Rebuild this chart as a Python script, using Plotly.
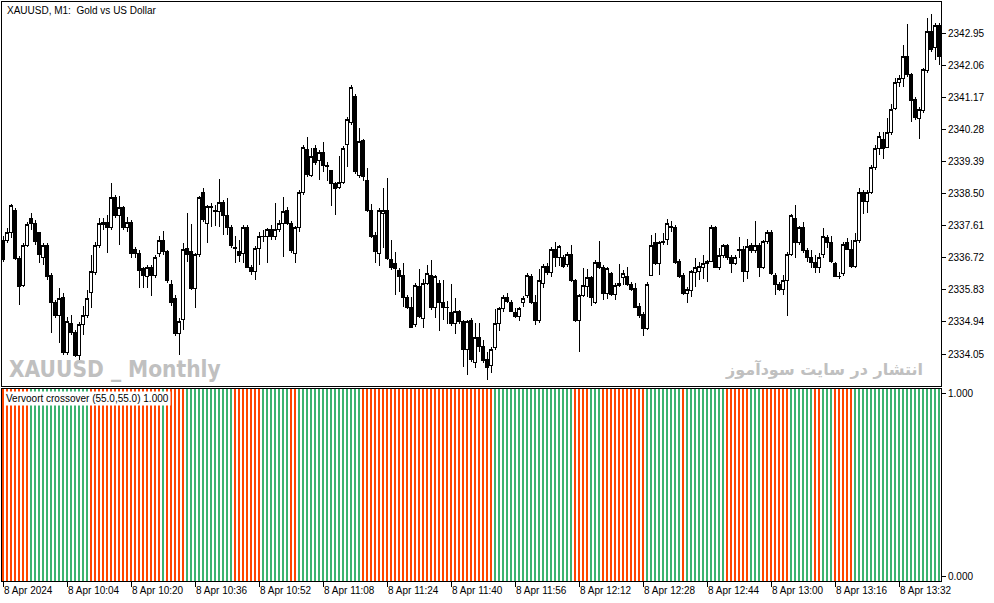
import pandas as pd
import plotly.graph_objs as go

# XAUUSD M1 candles, 8 Apr 2024 from 09:48 (one bar per minute)
start_time = "2024-04-08 09:48"

opens = [
    2337.21, 2337.21, 2337.43, 2338.04, 2336.71, 2335.96, 2337.07, 2337.82, 2337.68, 2337.41,
    2336.74, 2337.07, 2336.24, 2335.47, 2335.13, 2335.63, 2334.08, 2334.91, 2334.66, 2334.02,
    2334.86, 2335.13, 2335.77, 2336.30, 2337.07, 2337.63, 2337.71, 2337.57, 2338.40, 2337.90,
    2338.10, 2337.57, 2337.71, 2336.96, 2336.85, 2336.41, 2336.19, 2336.46, 2336.24, 2336.85,
    2337.21, 2336.88, 2335.99, 2335.60, 2334.63, 2335.00, 2336.99, 2336.88, 2335.88, 2336.80,
    2338.52, 2337.68, 2338.10, 2338.04, 2337.99, 2338.24, 2337.90, 2337.57, 2336.98, 2336.88,
    2336.85, 2337.57, 2336.46, 2336.35, 2336.99, 2337.30, 2337.30, 2337.49, 2337.30, 2337.49,
    2337.68, 2338.04, 2337.68, 2336.85, 2337.55, 2338.52, 2339.71, 2338.99, 2339.74, 2339.43,
    2339.65, 2339.27, 2339.13, 2338.77, 2338.68, 2338.82, 2339.85, 2340.46, 2341.20, 2338.99,
    2339.96, 2338.85, 2338.04, 2337.35, 2336.85, 2337.96, 2338.04, 2336.68, 2336.57, 2336.38,
    2336.24, 2335.63, 2335.33, 2334.88, 2335.91, 2335.05, 2336.02, 2336.24, 2335.33, 2336.02,
    2335.49, 2335.34, 2335.19, 2334.91, 2335.22, 2334.94, 2334.19, 2334.97, 2333.83, 2334.52,
    2334.27, 2333.89, 2333.72, 2334.22, 2334.91, 2335.30, 2335.63, 2335.49, 2335.19, 2335.08,
    2335.47, 2335.66, 2336.21, 2335.49, 2334.97, 2336.02, 2336.49, 2336.30, 2336.94, 2336.74,
    2336.74, 2336.52, 2336.82, 2336.08, 2334.97, 2335.66, 2335.91, 2336.16, 2335.49, 2336.60,
    2336.46, 2335.74, 2336.27, 2335.69, 2335.96, 2336.16, 2336.21, 2335.99, 2335.88, 2335.38,
    2335.16, 2334.75, 2336.24, 2337.13, 2336.57, 2337.13, 2337.24, 2337.57, 2337.57, 2336.63,
    2336.24, 2335.74, 2335.80, 2336.30, 2336.33, 2336.46, 2336.55, 2336.63, 2337.55, 2336.46,
    2336.77, 2337.05, 2336.74, 2336.57, 2336.93, 2336.96, 2336.35, 2337.07, 2336.91, 2337.07,
    2336.46, 2337.16, 2337.43, 2336.24, 2335.99, 2335.85, 2336.10, 2336.82, 2337.82, 2337.13,
    2337.55, 2336.91, 2336.74, 2336.60, 2336.46, 2336.82, 2337.27, 2337.13, 2336.55, 2336.21,
    2336.27, 2337.13, 2336.94, 2336.49, 2337.21, 2338.52, 2338.29, 2338.54, 2339.21, 2339.76,
    2340.01, 2339.79, 2340.18, 2340.87, 2341.59, 2341.68, 2342.29, 2341.79, 2341.12, 2340.57,
    2340.79, 2341.90, 2342.98, 2342.56, 2343.17,
]

highs = [
    2337.32, 2337.55, 2338.21, 2338.10, 2336.77, 2337.13, 2337.71, 2337.96, 2337.77, 2337.43,
    2337.13, 2337.13, 2336.30, 2335.55, 2335.88, 2335.74, 2335.08, 2335.13, 2334.72, 2334.94,
    2335.38, 2335.83, 2336.80, 2337.16, 2337.82, 2337.82, 2337.90, 2338.79, 2338.46, 2338.43,
    2338.15, 2337.85, 2337.77, 2337.02, 2336.94, 2336.46, 2336.52, 2336.52, 2336.80, 2337.32,
    2337.46, 2336.94, 2336.10, 2335.69, 2335.05, 2337.13, 2337.96, 2337.66, 2336.85, 2338.43,
    2338.65, 2338.18, 2338.24, 2338.18, 2338.90, 2338.32, 2338.38, 2337.63, 2337.32, 2337.21,
    2337.63, 2337.63, 2336.52, 2337.05, 2337.43, 2337.49, 2337.55, 2337.63, 2338.24, 2337.77,
    2338.40, 2338.13, 2337.74, 2337.60, 2338.60, 2339.85, 2340.07, 2339.76, 2339.85, 2339.71,
    2339.93, 2339.37, 2339.15, 2338.82, 2339.54, 2339.82, 2340.62, 2341.51, 2341.26, 2340.32,
    2340.01, 2339.21, 2338.21, 2337.43, 2338.10, 2338.65, 2338.93, 2337.21, 2336.88, 2336.44,
    2336.57, 2335.69, 2335.63, 2336.02, 2336.41, 2336.13, 2336.52, 2336.66, 2336.24, 2336.10,
    2336.10, 2335.52, 2335.99, 2335.60, 2335.27, 2335.00, 2335.00, 2335.05, 2334.91, 2334.91,
    2334.44, 2334.11, 2334.25, 2335.30, 2335.35, 2335.69, 2335.74, 2335.55, 2335.33, 2335.35,
    2335.66, 2336.30, 2336.27, 2335.69, 2336.41, 2336.55, 2336.57, 2337.02, 2337.16, 2337.07,
    2336.80, 2336.88, 2337.07, 2336.13, 2335.71, 2336.44, 2336.41, 2336.21, 2336.66, 2337.18,
    2336.52, 2336.46, 2336.33, 2336.02, 2336.55, 2336.38, 2336.46, 2336.05, 2336.02, 2335.47,
    2335.22, 2336.05, 2337.35, 2337.41, 2337.18, 2337.41, 2337.80, 2337.74, 2337.63, 2336.68,
    2336.30, 2335.91, 2336.38, 2336.71, 2336.60, 2336.80, 2336.66, 2337.63, 2337.60, 2336.99,
    2337.10, 2337.10, 2336.80, 2336.80, 2337.30, 2337.05, 2337.24, 2337.13, 2337.74, 2337.13,
    2337.21, 2337.49, 2337.49, 2336.30, 2336.05, 2336.24, 2336.88, 2337.93, 2338.18, 2337.60,
    2337.71, 2336.99, 2336.94, 2336.80, 2336.85, 2337.55, 2337.35, 2337.32, 2336.60, 2336.33,
    2337.16, 2337.27, 2337.21, 2337.41, 2338.65, 2338.60, 2338.60, 2339.29, 2339.85, 2340.21,
    2340.21, 2340.59, 2340.98, 2341.70, 2341.79, 2342.62, 2343.20, 2341.84, 2341.18, 2340.90,
    2341.98, 2343.37, 2343.48, 2343.23, 2343.23,
]

lows = [
    2336.60, 2337.13, 2337.27, 2336.66, 2335.41, 2335.91, 2337.02, 2337.49, 2337.07, 2336.57,
    2336.52, 2336.10, 2334.63, 2335.05, 2334.36, 2334.02, 2334.02, 2334.58, 2333.97, 2333.89,
    2334.58, 2335.05, 2335.33, 2336.24, 2336.99, 2337.49, 2336.85, 2337.49, 2337.82, 2337.07,
    2337.49, 2337.43, 2336.71, 2336.71, 2335.88, 2335.88, 2335.88, 2335.66, 2336.16, 2336.74,
    2336.80, 2336.02, 2335.38, 2334.55, 2334.02, 2334.72, 2336.60, 2335.83, 2335.33, 2336.74,
    2337.71, 2337.13, 2337.57, 2337.60, 2337.57, 2337.35, 2337.35, 2336.99, 2336.57, 2336.60,
    2336.57, 2336.44, 2336.24, 2336.10, 2336.52, 2337.16, 2336.57, 2337.21, 2337.21, 2337.43,
    2336.74, 2337.63, 2336.85, 2336.57, 2337.43, 2338.46, 2338.96, 2338.96, 2339.29, 2338.88,
    2339.10, 2338.85, 2338.15, 2337.90, 2338.63, 2338.77, 2339.24, 2340.40, 2339.04, 2338.93,
    2338.85, 2337.99, 2337.27, 2336.57, 2336.49, 2336.99, 2336.66, 2336.38, 2335.69, 2335.77,
    2335.35, 2335.30, 2334.77, 2334.80, 2335.05, 2334.77, 2335.96, 2335.27, 2335.05, 2334.69,
    2335.00, 2334.88, 2334.83, 2334.61, 2334.88, 2333.69, 2333.47, 2333.83, 2333.66, 2334.11,
    2333.80, 2333.33, 2333.53, 2334.16, 2334.69, 2335.22, 2335.47, 2335.22, 2335.05, 2334.97,
    2335.35, 2335.60, 2335.44, 2334.86, 2334.91, 2335.88, 2336.24, 2336.19, 2336.46, 2336.49,
    2336.44, 2336.46, 2336.05, 2334.94, 2334.11, 2335.63, 2335.63, 2335.38, 2335.44, 2336.41,
    2335.55, 2335.58, 2335.66, 2335.55, 2335.91, 2335.96, 2335.94, 2335.80, 2335.33, 2335.05,
    2334.55, 2334.72, 2336.21, 2336.52, 2336.24, 2337.07, 2337.07, 2337.43, 2336.55, 2336.16,
    2335.69, 2335.47, 2335.63, 2335.91, 2336.10, 2336.13, 2336.05, 2336.60, 2336.44, 2336.38,
    2336.71, 2336.66, 2336.30, 2336.52, 2336.71, 2336.05, 2336.13, 2336.85, 2336.85, 2336.19,
    2336.41, 2337.10, 2336.24, 2335.69, 2335.80, 2335.69, 2335.11, 2336.77, 2336.71, 2337.07,
    2336.85, 2336.60, 2336.44, 2336.30, 2336.30, 2336.71, 2336.99, 2336.57, 2336.19, 2336.13,
    2336.21, 2336.94, 2336.44, 2336.44, 2337.13, 2337.93, 2337.96, 2338.49, 2339.15, 2339.57,
    2339.46, 2339.76, 2340.12, 2340.82, 2341.45, 2341.45, 2341.73, 2340.48, 2340.54, 2340.01,
    2340.73, 2341.84, 2342.42, 2342.20, 2342.06,
]

closes = [
    2336.66, 2337.43, 2338.18, 2336.71, 2335.91, 2337.07, 2337.63, 2337.68, 2337.16, 2336.80,
    2337.07, 2336.19, 2335.47, 2335.13, 2335.60, 2334.08, 2334.94, 2334.66, 2334.02, 2334.86,
    2335.13, 2335.60, 2336.33, 2337.07, 2337.68, 2337.71, 2337.55, 2338.40, 2337.90, 2338.10,
    2337.57, 2337.71, 2336.85, 2336.85, 2336.38, 2336.24, 2336.44, 2336.24, 2336.74, 2337.21,
    2336.88, 2336.10, 2335.49, 2334.63, 2334.94, 2336.94, 2336.80, 2335.88, 2336.80, 2338.38,
    2337.77, 2338.13, 2338.13, 2337.99, 2338.24, 2337.90, 2337.57, 2337.05, 2337.00, 2336.77,
    2337.57, 2336.46, 2336.33, 2336.99, 2337.30, 2337.32, 2337.49, 2337.30, 2337.49, 2337.68,
    2337.99, 2337.68, 2336.91, 2337.55, 2338.52, 2339.79, 2339.02, 2339.54, 2339.35, 2339.65,
    2339.29, 2339.26, 2338.77, 2338.65, 2338.82, 2339.76, 2340.54, 2341.43, 2339.10, 2339.93,
    2338.96, 2338.02, 2337.32, 2336.88, 2338.04, 2338.04, 2336.71, 2336.44, 2336.41, 2336.21,
    2335.63, 2335.35, 2334.80, 2335.94, 2335.08, 2336.02, 2336.27, 2335.33, 2336.19, 2335.47,
    2335.35, 2335.33, 2334.91, 2335.22, 2334.94, 2334.19, 2334.94, 2333.89, 2334.52, 2334.25,
    2333.86, 2333.69, 2334.19, 2334.91, 2335.30, 2335.63, 2335.52, 2335.24, 2335.08, 2335.30,
    2335.60, 2336.24, 2335.49, 2334.97, 2336.10, 2336.49, 2336.30, 2336.96, 2336.74, 2337.02,
    2336.49, 2336.82, 2336.08, 2334.97, 2335.66, 2335.94, 2336.16, 2335.63, 2336.60, 2336.46,
    2335.74, 2336.41, 2335.71, 2335.96, 2336.02, 2336.27, 2335.99, 2335.85, 2335.35, 2335.13,
    2334.77, 2335.99, 2337.07, 2336.57, 2337.13, 2337.18, 2337.66, 2337.58, 2336.60, 2336.21,
    2335.74, 2335.83, 2336.33, 2336.46, 2336.49, 2336.55, 2336.63, 2337.55, 2336.46, 2336.77,
    2337.05, 2336.74, 2336.55, 2336.74, 2336.94, 2336.35, 2337.02, 2336.91, 2337.07, 2336.46,
    2337.16, 2337.43, 2336.27, 2335.99, 2335.85, 2336.10, 2336.82, 2337.88, 2337.13, 2337.55,
    2336.91, 2336.74, 2336.60, 2336.46, 2336.74, 2337.30, 2337.13, 2336.63, 2336.21, 2336.19,
    2337.10, 2336.96, 2336.49, 2337.21, 2338.52, 2338.29, 2338.54, 2339.21, 2339.76, 2340.07,
    2339.76, 2340.18, 2340.82, 2341.59, 2341.70, 2342.29, 2341.79, 2341.09, 2340.62, 2340.84,
    2341.93, 2342.98, 2342.48, 2343.17, 2342.29,
]

# Vervoort crossover histogram: colour runs (G = up, R = down), every bar = 1.000
signal_runs = [
    ("R", 7), ("G", 15), ("R", 18), ("G", 1), ("R", 5), ("G", 12), ("R", 7),
    ("G", 7), ("R", 2), ("G", 16), ("R", 33), ("G", 20), ("R", 4), ("G", 3),
    ("R", 11), ("G", 9), ("R", 1), ("G", 10), ("R", 6), ("G", 3), ("R", 7),
    ("G", 6), ("R", 2), ("G", 3), ("R", 5), ("G", 22),
]
signal_level = 1.0

price_ticks = [2334.05, 2334.94, 2335.83, 2336.72, 2337.61, 2338.50,
               2339.39, 2340.28, 2341.17, 2342.06, 2342.95]
time_tick_text = ["8 Apr 2024", "8 Apr 10:04", "8 Apr 10:20", "8 Apr 10:36",
                  "8 Apr 10:52", "8 Apr 11:08", "8 Apr 11:24", "8 Apr 11:40",
                  "8 Apr 11:56", "8 Apr 12:12", "8 Apr 12:28", "8 Apr 12:44",
                  "8 Apr 13:00", "8 Apr 13:16", "8 Apr 13:32"]

times = pd.date_range(start_time, periods=len(opens), freq="1min")
time_ticks = pd.date_range(start_time, periods=len(time_tick_text), freq="16min")

signal = []
for code, n in signal_runs:
    signal += [code] * n
colors = {"G": "#3CB371", "R": "#FF4500"}
bar_colors = [colors[c] for c in signal]

FONT = "Liberation Sans, Arial, sans-serif"

fig = go.Figure()

fig.add_trace(
    go.Candlestick(
        x=times,
        open=opens,
        high=highs,
        low=lows,
        close=closes,
        increasing=dict(line=dict(color="black", width=1), fillcolor="white"),
        decreasing=dict(line=dict(color="black", width=1), fillcolor="black"),
        whiskerwidth=0,
        xaxis="x",
        yaxis="y",
        showlegend=False,
    )
)

fig.add_trace(
    go.Bar(
        x=times[: len(signal)],
        y=[signal_level] * len(signal),
        marker=dict(color=bar_colors, line=dict(width=0)),
        width=30000,
        xaxis="x2",
        yaxis="y2",
        showlegend=False,
    )
)

x_range = [pd.Timestamp(start_time) - pd.Timedelta(seconds=15),
           times[-1] + pd.Timedelta(seconds=30)]

axis_common = dict(showline=True, linecolor="black", linewidth=1, mirror=True,
                   showgrid=False, zeroline=False)

fig.update_layout(
    width=994,
    height=603,
    margin=dict(l=2, r=53, t=2, b=22),
    paper_bgcolor="white",
    plot_bgcolor="white",
    font=dict(family=FONT, size=10, color="black"),
    boxgap=0.1,
    xaxis=dict(
        **axis_common,
        domain=[0, 1],
        anchor="y",
        range=x_range,
        showticklabels=False,
        ticks="",
        rangeslider=dict(visible=False),
    ),
    xaxis2=dict(
        **axis_common,
        domain=[0, 1],
        anchor="y2",
        matches="x",
        range=x_range,
        tickvals=list(time_ticks),
        ticktext=time_tick_text,
        ticks="outside",
        ticklen=5,
        tickcolor="black",
        ticklabelposition="outside right",
        tickfont=dict(family=FONT, size=10, color="black"),
    ),
    yaxis=dict(
        **axis_common,
        domain=[0.3368, 1],
        anchor="x",
        side="right",
        range=[2333.165, 2343.81],
        tickvals=price_ticks,
        ticktext=["%.2f" % v for v in price_ticks],
        ticks="outside",
        ticklen=4,
        tickcolor="black",
        tickfont=dict(family=FONT, size=10, color="black"),
    ),
    yaxis2=dict(
        **axis_common,
        domain=[0, 0.3316],
        anchor="x2",
        side="right",
        range=[0, 1],
        tickvals=[0.026, 0.974],
        ticktext=["0.000", "1.000"],
        ticks="outside",
        ticklen=4,
        tickcolor="black",
        tickfont=dict(family=FONT, size=10, color="black"),
    ),
    bargap=0,
)

fig.add_annotation(
    text="XAUUSD, M1:  Gold vs US Dollar",
    xref="paper", yref="paper", x=0.003, y=0.999,
    xanchor="left", yanchor="top", showarrow=False,
    font=dict(family=FONT, size=10, color="black"),
)
fig.add_annotation(
    text="<b>XAUUSD _ Monthly</b>",
    xref="paper", yref="paper", x=0.005, y=0.366,
    xanchor="left", yanchor="middle", showarrow=False,
    font=dict(family="DejaVu Sans Condensed, sans-serif", size=22.5, color="#C0C0C0"),
)
fig.add_annotation(
    text="<b>انتشار در سایت سودآموز</b>",
    xref="paper", yref="paper", x=0.983, y=0.366,
    xanchor="right", yanchor="middle", showarrow=False,
    font=dict(family="DejaVu Sans, sans-serif", size=16, color="#C0C0C0"),
)
fig.add_annotation(
    text="Vervoort crossover (55.0,55.0) 1.000",
    xref="paper", yref="paper", x=0.002, y=0.329,
    xanchor="left", yanchor="top", showarrow=False,
    bgcolor="white", borderpad=1,
    font=dict(family=FONT, size=10, color="black"),
)

# the page's default body margin would shift the chart by 8px;
# crisp edges keep the 1px candle wicks and 2px stripes sharp like the terminal
page_fix = (
    "document.body.style.margin='0';"
    "var s=document.createElement('style');"
    "s.textContent='.main-svg path{shape-rendering:crispEdges}';"
    "document.head.appendChild(s);"
)
fig.write_html("out.html", post_script=page_fix, config={"displayModeBar": False})
